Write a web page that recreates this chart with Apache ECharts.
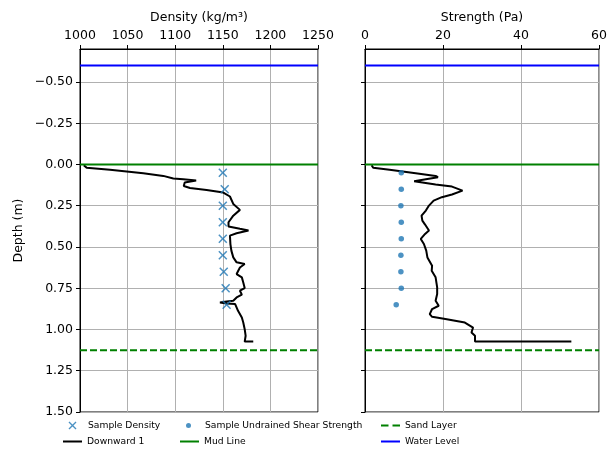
<!DOCTYPE html>
<html><head><meta charset="utf-8">
<script src="https://cdn.jsdelivr.net/npm/echarts@6/dist/echarts.min.js"></script>
<style>html,body{margin:0;padding:0;background:#fff}#c{width:610px;height:450px}</style>
</head><body><div id="c"></div>
<script>
const densityTicks = [1000, 1050, 1100, 1150, 1200, 1250];
const strengthTicks = [0, 20, 40, 60];
const depthTicks = [-0.5, -0.25, 0, 0.25, 0.5, 0.75, 1.0, 1.25, 1.5];

const sampleDepths = [0.05, 0.15, 0.25, 0.35, 0.45, 0.55, 0.65, 0.75, 0.85];
const sampleDensity = [1150, 1152, 1150, 1150, 1150, 1150, 1151, 1153, 1154];
const sampleStrength = [9.3, 9.3, 9.2, 9.3, 9.3, 9.2, 9.2, 9.3, 8.0];

const densityProfileDepth = [0.004, 0.02, 0.032, 0.053, 0.069, 0.085, 0.089, 0.097, 0.109, 0.13, 0.142, 0.154, 0.17, 0.194, 0.239, 0.275, 0.31, 0.35, 0.376, 0.39, 0.40, 0.417, 0.431, 0.482, 0.522, 0.563, 0.593, 0.603, 0.624, 0.664, 0.684, 0.715, 0.749, 0.765, 0.789, 0.806, 0.826, 0.83, 0.836, 0.842, 0.846, 0.887, 0.927, 0.958, 0.998, 1.038, 1.073, 1.073];
const densityProfileValue = [1004, 1007, 1031.5, 1066.5, 1087.5, 1098, 1108.5, 1122, 1110, 1109, 1115.5, 1133, 1150.5, 1157.5, 1161, 1168, 1161, 1156, 1156, 1168, 1177, 1164.5, 1157.5, 1158, 1159, 1161, 1164.5, 1173, 1168, 1164.5, 1170, 1171.5, 1173, 1168, 1170, 1164.5, 1161, 1154, 1147, 1154, 1163, 1166, 1170, 1171.5, 1173, 1174, 1173, 1182];

const strengthProfileDepth = [0.004, 0.02, 0.032, 0.053, 0.069, 0.077, 0.089, 0.101, 0.113, 0.121, 0.134, 0.158, 0.182, 0.198, 0.219, 0.249, 0.279, 0.31, 0.34, 0.364, 0.40, 0.421, 0.451, 0.482, 0.522, 0.563, 0.613, 0.644, 0.684, 0.745, 0.785, 0.826, 0.856, 0.876, 0.907, 0.923, 0.937, 0.958, 0.988, 1.018, 1.038, 1.073, 1.073];
const strengthProfileValue = [1.7, 2.1, 6.3, 13.0, 18.1, 18.7, 15.6, 12.6, 13.0, 18.1, 22.3, 25.0, 22.3, 19.7, 17.6, 16.4, 15.6, 14.5, 14.7, 15.4, 16.4, 15.4, 14.3, 15.1, 15.7, 16.0, 17.2, 17.1, 18.1, 18.5, 18.5, 18.1, 18.9, 17.2, 16.6, 17.2, 20.6, 25.6, 27.7, 27.3, 28.2, 28.2, 52.9];

const waterLevel = -0.6;
const mudLine = 0;
const sandLayer = 1.125;

const FONT = 'DejaVu Sans';
const TICK_FS = 12.5;
const depthRange = [-0.7, 1.5];
const densityRange = [1000, 1250];
const strengthRange = [0, 60];

const xMarker = 'path://M0,1.2 L1.2,0 L5,3.8 L8.8,0 L10,1.2 L6.2,5 L10,8.8 L8.8,10 L5,6.2 L1.2,10 L0,8.8 L3.8,5 Z';
const lineIcon = 'path://M0,0 L19,0 L19,2 L0,2 Z';
const dashIcon = 'path://M0,0 L7.5,0 L7.5,2 L0,2 Z M11.5,0 L19,0 L19,2 L11.5,2 Z';

function zip(a, b) { return a.map((v, i) => [v, b[i]]); }

function xAxisDef(grid, range, ticks, name) {
  return {
    type: 'value', gridIndex: grid, position: 'top',
    min: range[0], max: range[1], interval: ticks[1] - ticks[0],
    name: name, nameLocation: 'middle', nameGap: 25,
    nameTextStyle: { fontFamily: FONT, fontSize: TICK_FS, color: '#000' },
    axisLine: { show: true, onZero: false, lineStyle: { color: '#000', width: 1 } },
    axisTick: { show: true, length: 4, lineStyle: { color: '#000' } },
    axisLabel: { fontFamily: FONT, fontSize: TICK_FS, color: '#000', margin: 7, formatter: v => String(v) },
    splitLine: { show: true, lineStyle: { color: '#b0b0b0', width: 1 } }
  };
}
function yAxisDef(grid, showLabels) {
  return {
    type: 'value', gridIndex: grid, inverse: true,
    min: depthRange[0], max: depthRange[1],
    name: showLabels ? 'Depth (m)' : '', nameLocation: 'middle', nameGap: 55, nameRotate: 90,
    nameTextStyle: { fontFamily: FONT, fontSize: TICK_FS, color: '#000' },
    axisLine: { show: true, onZero: false, lineStyle: { color: '#000', width: 1 } },
    axisTick: { show: true, length: 4, customValues: depthTicks, lineStyle: { color: '#000' } },
    axisLabel: {
      show: showLabels, customValues: depthTicks, fontFamily: FONT, fontSize: TICK_FS, color: '#000', margin: 7,
      formatter: v => (v < 0 ? '\u2212' : '') + Math.abs(v).toFixed(2)
    },
    splitLine: { show: true, lineStyle: { color: '#b0b0b0', width: 1 } }
  };
}

function hline(name, y, range, xi, color, type) {
  return {
    name: name, type: 'line', xAxisIndex: xi, yAxisIndex: xi, symbol: 'none',
    data: [[range[0], y], [range[1], y]],
    lineStyle: { color: color, width: 2, type: type || 'solid' },
    itemStyle: { color: color }, z: 4, silent: true
  };
}

const legFont = { fontFamily: FONT, fontSize: 9.2, color: '#000' };
function leg(name, left, cy, icon, size, textPad) {
  const w = size || 19, h = size || 12;
  return { data: [{ name: name, icon: icon }], left: left, top: cy - 6, padding: 0,
           itemWidth: w, itemHeight: h, itemGap: 0, symbolKeepAspect: true,
           textStyle: Object.assign({ padding: [0, 0, 0, textPad || 0] }, legFont), selectedMode: false };
}

const option = {
  animation: false,
  backgroundColor: '#fff',
  grid: [
    { left: 80, top: 49, width: 238, bottom: 38, show: true, borderColor: '#000', borderWidth: 1, backgroundColor: 'transparent' },
    { left: 365, top: 49, width: 238, bottom: 38, show: true, borderColor: '#000', borderWidth: 1, backgroundColor: 'transparent' }
  ],
  xAxis: [
    xAxisDef(0, densityRange, densityTicks, 'Density (kg/m³)'),
    xAxisDef(1, strengthRange, strengthTicks, 'Strength (Pa)')
  ],
  yAxis: [yAxisDef(0, true), yAxisDef(1, false)],
  legend: [
    leg('Sample Density', 68.5, 427, xMarker, 8, 6.5),
    leg('Downward 1', 63, 443, lineIcon),
    leg('Sample Undrained Shear Strength', 186, 427, 'circle', 5, 9),
    leg('Mud Line', 180, 443, lineIcon),
    leg('Sand Layer', 381, 427, dashIcon),
    leg('Water Level', 381, 443, lineIcon)
  ],
  series: [
    { name: 'Sample Density', type: 'scatter', xAxisIndex: 0, yAxisIndex: 0,
      data: zip(sampleDensity, sampleDepths), symbol: xMarker, symbolSize: 9,
      itemStyle: { color: '#1f77b4' }, z: 3 },
    { name: 'Sample Undrained Shear Strength', type: 'scatter', xAxisIndex: 1, yAxisIndex: 1,
      data: zip(sampleStrength, sampleDepths), symbol: 'circle', symbolSize: 5.5,
      itemStyle: { color: '#1f77b4' }, z: 3 },
    { name: 'Downward 1', type: 'line', xAxisIndex: 0, yAxisIndex: 0, symbol: 'none',
      data: zip(densityProfileValue, densityProfileDepth),
      lineStyle: { color: '#000', width: 2 }, itemStyle: { color: '#000' }, z: 3 },
    { name: 'Downward 1', type: 'line', xAxisIndex: 1, yAxisIndex: 1, symbol: 'none',
      data: zip(strengthProfileValue, strengthProfileDepth),
      lineStyle: { color: '#000', width: 2 }, itemStyle: { color: '#000' }, z: 3 },
    hline('Mud Line', mudLine, densityRange, 0, '#008000'),
    hline('Mud Line', mudLine, strengthRange, 1, '#008000'),
    hline('Sand Layer', sandLayer, densityRange, 0, '#008000', [7, 3]),
    hline('Sand Layer', sandLayer, strengthRange, 1, '#008000', [7, 3]),
    hline('Water Level', waterLevel, densityRange, 0, '#0000ff'),
    hline('Water Level', waterLevel, strengthRange, 1, '#0000ff')
  ]
};
const chart = echarts.init(document.getElementById('c'), null, { renderer: 'canvas' });
chart.setOption(option);
</script></body></html>
